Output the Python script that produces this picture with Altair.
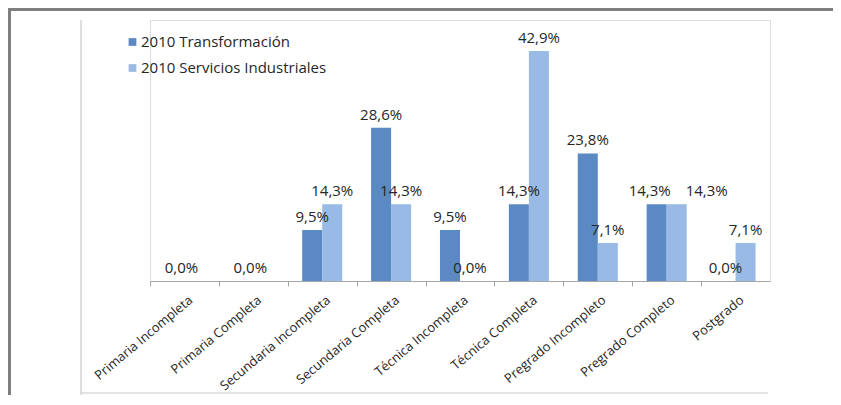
import altair as alt
import pandas as pd

categories = ["Primaria Incompleta", "Primaria Completa", "Secundaria Incompleta",
              "Secundaria Completa", "Técnica Incompleta", "Técnica Completa",
              "Pregrado Incompleto", "Pregrado Completo", "Postgrado"]
series_names = ["2010 Transformación", "2010 Servicios Industriales"]
transformacion = [0.0, 0.0, 9.5, 28.6, 9.5, 14.3, 23.8, 14.3, 0.0]
servicios = [0.0, 0.0, 14.3, 14.3, 0.0, 42.9, 7.1, 14.3, 7.1]
colors = ["#5A89C4", "#98BAE4"]

def fmt(v):
    return f"{v:.1f}%".replace(".", ",")

rows = []
single = []
for c, a, b in zip(categories, transformacion, servicios):
    both_zero = (a == 0 and b == 0)
    if both_zero:
        single.append({"cat": c, "value": 0.0, "label": fmt(0.0)})
    for s, v in zip(series_names, (a, b)):
        rows.append({"cat": c, "serie": s, "value": v,
                     "label": "" if both_zero else fmt(v),
                     "moved": c == "Pregrado Completo"})
df = pd.DataFrame(rows)
df_single = pd.DataFrame(single)

FONT = "Open Sans"
STEP = 620 / 9

x = alt.X("cat:N", sort=categories, title=None,
          scale=alt.Scale(paddingInner=0, paddingOuter=0),
          axis=alt.Axis(labelAngle=-40, labelAlign="right", labelBaseline="middle",
                        labelPadding=12, labelFontSize=13, labelFont=FONT, labelColor="#262626",
                        tickOffset=-STEP / 2, labelOffset=STEP / 2 + 6, tickSize=5,
                        domainColor="#A6A6A6", tickColor="#A6A6A6", labelLimit=400))
y = alt.Y("value:Q", scale=alt.Scale(domain=[0, 48.7], nice=False), axis=None)
xoff = alt.XOffset("serie:N", sort=series_names,
                   scale=alt.Scale(paddingInner=0, paddingOuter=0.72))

bars = alt.Chart(df).mark_bar().encode(
    x=x, y=y, xOffset=xoff,
    color=alt.Color("serie:N", sort=series_names,
                    scale=alt.Scale(domain=series_names, range=colors),
                    legend=alt.Legend(title=None, orient="none", legendX=-25, legendY=14.5,
                                      symbolType="square", symbolSize=60,
                                      symbolStrokeWidth=0, labelFontSize=15,
                                      labelFont=FONT, labelColor="#262626", rowPadding=10,
                                      labelOffset=1, labelLimit=400)),
)

def text_layer(data, **kw):
    return alt.Chart(data).mark_text(fontSize=15, font=FONT, color="#262626",
                                     baseline="middle", dy=-13, **kw)

labels = text_layer(df).transform_filter("!datum.moved").encode(
    x=x, y=y, xOffset=xoff, text="label:N")
labels_moved_a = text_layer(df, dx=-7).transform_filter(
    f"datum.moved && datum.serie == '{series_names[0]}'").encode(
    x=x, y=y, xOffset=xoff, text="label:N")
labels_moved_b = text_layer(df, dx=30).transform_filter(
    f"datum.moved && datum.serie == '{series_names[1]}'").encode(
    x=x, y=y, xOffset=xoff, text="label:N")
labels_single = text_layer(df_single, dx=-3).encode(
    x=alt.X("cat:N", sort=categories), y=alt.Y("value:Q"), text="label:N")

dummy = pd.DataFrame({"a": [0]})
inner_left = alt.Chart(dummy).mark_rule(color="#C8C8C8", strokeWidth=1.2).encode(
    x=alt.value(-69), y=alt.value(0), y2=alt.value(376))
inner_bottom = alt.Chart(dummy).mark_rule(color="#C8C8C8", strokeWidth=1.2).encode(
    x=alt.value(-69), x2=alt.value(618), y=alt.value(373))
outer_left = alt.Chart(dummy).mark_rule(color="#7F7F7F", strokeWidth=3).encode(
    x=alt.value(-140.5), y=alt.value(-12), y2=alt.value(380))
outer_top = alt.Chart(dummy).mark_rule(color="#7F7F7F", strokeWidth=3).encode(
    x=alt.value(-142), x2=alt.value(700), y=alt.value(-10.5))

chart = alt.layer(inner_left, inner_bottom, outer_left, outer_top, bars,
                  labels, labels_moved_a, labels_moved_b, labels_single).properties(
    width=620, height=261,
    autosize=alt.AutoSizeParams(type="none"),
    padding={"left": 142, "top": 12, "right": 63, "bottom": 114},
).configure_view(stroke=None).configure(background="white")

chart.save("out.html", embed_options={"renderer": "svg", "actions": False})
